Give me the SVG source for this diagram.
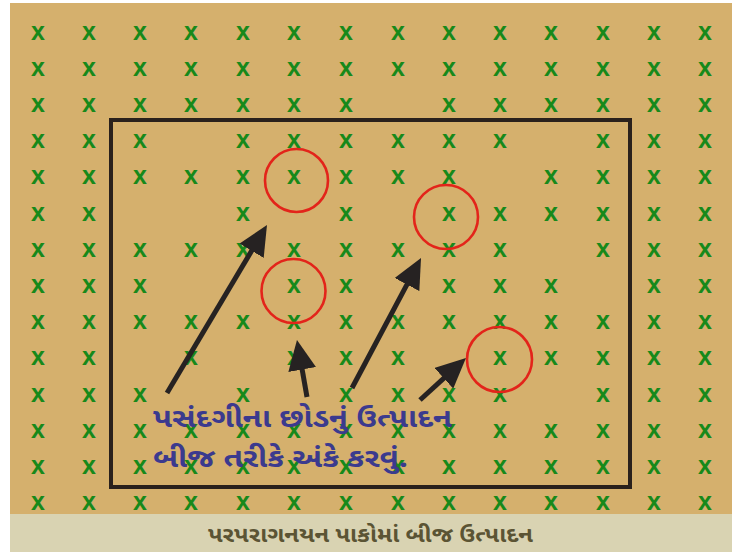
<svg xmlns="http://www.w3.org/2000/svg" width="746" height="554" viewBox="0 0 746 554">
<style>
.bg{fill:#d5b06d}
.band{fill:#d9d3b2}
.pl{font-family:"Liberation Sans",Arial,sans-serif;font-weight:bold;font-size:25px;fill:#17891a;text-anchor:middle}
.ring{fill:none;stroke:#e3241a;stroke-width:2.6}
.box{fill:none;stroke:#2a211c;stroke-width:4}
.arr{stroke:#262222;stroke-width:5;fill:none}
.lbl{font-family:"Noto Sans Gujarati","Lohit Gujarati","Noto Sans",sans-serif;font-weight:bold;font-size:27px;fill:#3b3a8e}
.cap{font-family:"Noto Sans Gujarati","Lohit Gujarati","Noto Sans",sans-serif;font-weight:bold;font-size:22px;fill:#5b5434}
</style>
<defs>
<marker id="head" markerUnits="userSpaceOnUse" markerWidth="30" markerHeight="28" viewBox="0 0 30 28" refX="5" refY="14" orient="auto">
<path d="M0,0 L30,14 L0,28 z" fill="#262222"/>
</marker>
</defs>
<rect width="746" height="554" fill="#ffffff"/>
<rect class="bg" x="10" y="3" width="722" height="512"/>
<rect class="band" x="10" y="514" width="722" height="38"/>
<g id="plants" class="pl">
<text x="38 89 140 191 243 294 346 398 449 500 551 603 654 705" y="39.5">xxxxxxxxxxxxxx</text>
<text x="38 89 140 191 243 294 346 398 449 500 551 603 654 705" y="75.7">xxxxxxxxxxxxxx</text>
<text x="38 89 140 191 243 294 346 449 500 551 603 654 705" y="111.9">xxxxxxxxxxxxx</text>
<text x="38 89 140 243 294 346 398 449 500 603 654 705" y="148.1">xxxxxxxxxxxx</text>
<text x="38 89 140 191 243 294 346 398 449 551 603 654 705" y="184.3">xxxxxxxxxxxxx</text>
<text x="38 89 243 346 449 500 551 603 654 705" y="220.5">xxxxxxxxxx</text>
<text x="38 89 140 191 243 294 346 398 449 500 603 654 705" y="256.7">xxxxxxxxxxxxx</text>
<text x="38 89 140 294 346 449 500 551 654 705" y="292.9">xxxxxxxxxx</text>
<text x="38 89 140 191 243 294 346 398 449 500 551 603 654 705" y="329.1">xxxxxxxxxxxxxx</text>
<text x="38 89 191 294 346 398 500 551 603 654 705" y="365.3">xxxxxxxxxxx</text>
<text x="38 89 140 243 346 398 449 500 603 654 705" y="401.5">xxxxxxxxxxx</text>
<text x="38 89 140 191 243 294 346 398 449 500 551 603 654 705" y="437.7">xxxxxxxxxxxxxx</text>
<text x="38 89 140 191 243 294 346 398 449 500 551 603 654 705" y="473.9">xxxxxxxxxxxxxx</text>
<text x="38 89 140 191 243 294 346 398 449 500 551 603 654 705" y="510.1">xxxxxxxxxxxxxx</text>
</g>
<g id="plot"><rect class="box" x="111" y="120" width="519" height="367"/></g>
<g id="selected-1"><circle class="ring" cx="296.5" cy="180.5" r="31.5"/></g>
<g id="selected-2"><circle class="ring" cx="293.5" cy="291" r="32"/></g>
<g id="selected-3"><circle class="ring" cx="446" cy="217" r="32"/></g>
<g id="selected-4"><circle class="ring" cx="499.5" cy="359.5" r="32.5"/></g>
<g id="connectors">
<line class="arr" x1="167" y1="393" x2="254.2" y2="246.5" marker-end="url(#head)"/>
<line class="arr" x1="307" y1="397" x2="301.3" y2="364.6" marker-end="url(#head)"/>
<line class="arr" x1="352" y1="388" x2="409.3" y2="280.1" marker-end="url(#head)"/>
<line class="arr" x1="420" y1="400" x2="447.5" y2="374.9" marker-end="url(#head)"/>
</g>
<g id="label" class="lbl">
<text x="153" y="427" textLength="299" lengthAdjust="spacingAndGlyphs">પસંદગીના છોડનું ઉત્પાદન</text>
<text x="153" y="467" textLength="255" lengthAdjust="spacingAndGlyphs">બીજ તરીકે અંકે કરવું.</text>
</g>
<g id="caption"><text class="cap" x="208" y="542" textLength="325" lengthAdjust="spacingAndGlyphs">પરપરાગનયન પાકોમાં બીજ ઉત્પાદન</text></g>
</svg>
